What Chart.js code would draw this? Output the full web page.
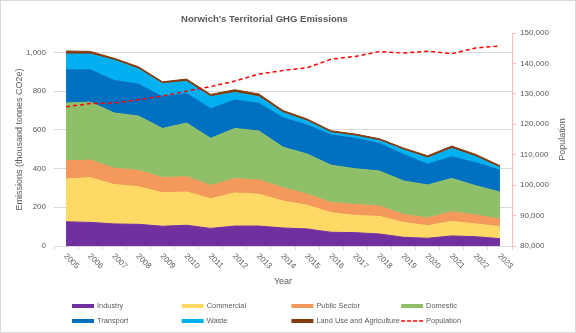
<!DOCTYPE html>
<html>
<head>
<meta charset="utf-8">
<script src="https://cdn.jsdelivr.net/npm/chart.js@4/dist/chart.umd.min.js"></script>
<style>
  html, body { margin: 0; padding: 0; background: #fff; }
  #chart { display: block; }
</style>
</head>
<body>
<canvas id="chart" width="576" height="333"></canvas>
<script>
var years = ['2005', '2006', '2007', '2008', '2009', '2010', '2011', '2012', '2013', '2014',
             '2015', '2016', '2017', '2018', '2019', '2020', '2021', '2022', '2023'];

// emissions, thousand tonnes CO2e
var industry   = [125, 122, 114, 112, 102, 107,  91, 103, 103,  93,  88,  71,  69,  62,  45,  40,  52,  48,  38];
var commercial = [221, 231, 203, 194, 173, 172, 153, 171, 164, 139, 122, 101,  88,  91,  77,  65,  75,  66,  62];
var publicSec  = [ 94,  91,  84,  85,  78,  79,  69,  74,  74,  69,  58,  52,  58,  53,  41,  40,  50,  46,  39];
var domestic   = [298, 299, 286, 280, 254, 277, 243, 259, 253, 209, 207, 193, 184, 181, 173, 170, 172, 151, 140];
var transport  = [172, 167, 168, 165, 164, 153, 153, 147, 143, 152, 150, 156, 157, 143, 137, 107, 112, 119, 113];
var waste      = [ 81,  81, 104,  78,  67,  62,  62,  39,  34,  26,  20,  12,  12,  14,  23,  32,  43,  31,  12];
var landUse    = [ 16,  14,  10,  12,  10,  12,  12,  14,  14,  12,  11,  10,  10,  10,  10,  12,  12,  12,  11];

var population = [125800, 126800, 127000, 128100, 129300, 130900, 132400, 134200, 136500, 137700,
                  138600, 141400, 142300, 143900, 143400, 144000, 143200, 145100, 145700];

var FONT = "'Liberation Sans', Arial, sans-serif";
var TEXT = '#595959';
var TITLE = "Norwich's Territorial GHG Emissions";

function area(label, data, color, first) {
  return {
    type: 'line',
    label: label,
    data: data,
    yAxisID: 'y',
    backgroundColor: color,
    borderColor: color,
    borderWidth: 1,
    pointRadius: 0,
    tension: 0,
    fill: first ? 'origin' : '-1'
  };
}

var datasets = [
  area('Industry', industry, '#7030A0', true),
  area('Commercial', commercial, '#FFD966'),
  area('Public Sector', publicSec, '#F4995C'),
  area('Domestic', domestic, '#8FC069'),
  area('Transport', transport, '#0070C0'),
  area('Waste', waste, '#00B0F0'),
  area('Land Use and Agriculture', landUse, '#843C0C'),
  {
    type: 'line',
    label: 'Population',
    data: population,
    yAxisID: 'y2',
    borderColor: '#FF0000',
    borderWidth: 1.5,
    borderDash: [4, 3],
    pointRadius: 0,
    tension: 0,
    fill: false,
    order: -1
  }
];

// frame, title, rotated year labels, right axis title and the legend grid
var extras = {
  id: 'extras',
  beforeDraw: function(chart) {
    var ctx = chart.ctx;
    ctx.save();
    ctx.strokeStyle = '#D9D9D9';
    ctx.lineWidth = 1;
    ctx.strokeRect(0.5, 0.5, chart.width - 1, chart.height - 1);
    ctx.restore();
  },
  afterDraw: function(chart) {
    var ctx = chart.ctx;
    var x = chart.scales.x;
    var area = chart.chartArea;
    ctx.save();

    // title, sized to the reference width
    ctx.font = 'bold 10px ' + FONT;
    var size = 10 * 167 / ctx.measureText(TITLE).width;
    ctx.font = 'bold ' + size.toFixed(2) + 'px ' + FONT;
    ctx.fillStyle = TEXT;
    ctx.textAlign = 'center';
    ctx.textBaseline = 'middle';
    ctx.fillText(TITLE, 264.5, 19);

    ctx.font = '8px ' + FONT;
    ctx.textAlign = 'left';
    years.forEach(function(y, i) {
      ctx.save();
      ctx.translate(x.getPixelForTick(i) - 1, area.bottom + 9);
      ctx.rotate(Math.PI / 4);
      ctx.fillText(y, 0, 0);
      ctx.restore();
    });

    ctx.save();
    ctx.font = '9px ' + FONT;
    ctx.textAlign = 'center';
    ctx.translate(563, (area.top + area.bottom) / 2);
    ctx.rotate(-Math.PI / 2);
    ctx.fillText('Population', 0, 0);
    ctx.restore();

    ctx.font = '7.4px ' + FONT;
    chart.data.datasets.forEach(function(ds, i) {
      var lx = 72 + (i % 4) * 109.7;
      var ly = 306 + Math.floor(i / 4) * 15;
      ctx.beginPath();
      ctx.strokeStyle = ds.borderColor;
      if (ds.borderDash) {
        ctx.lineWidth = 1.5;
        ctx.setLineDash([4, 2]);
      } else {
        ctx.lineWidth = 4;
        ctx.setLineDash([]);
      }
      ctx.moveTo(lx, ly);
      ctx.lineTo(lx + 22, ly);
      ctx.stroke();
      ctx.fillStyle = TEXT;
      ctx.fillText(ds.label, lx + 25, ly);
    });
    ctx.restore();
  }
};

new Chart(document.getElementById('chart'), {
  type: 'line',
  data: { labels: years, datasets: datasets },
  options: {
    responsive: false,
    animation: false,
    devicePixelRatio: 1,
    layout: { padding: { left: 0, right: 0, top: 33, bottom: 43 } },
    plugins: {
      legend: { display: false },
      tooltip: { enabled: false },
      title: { display: false }
    },
    scales: {
      x: {
        offset: true,
        grid: { offset: true, drawOnChartArea: false, drawTicks: true, tickLength: 4, color: '#D9D9D9' },
        border: { color: '#D9D9D9' },
        ticks: { display: false },
        title: {
          display: true, text: 'Year', color: TEXT,
          font: { family: FONT, size: 9 },
          padding: { top: 0, bottom: 3 }
        },
        afterFit: function(s) { s.height = 44; }
      },
      y: {
        position: 'left',
        stacked: true,
        min: 0,
        max: 1100,
        ticks: {
          stepSize: 200,
          includeBounds: false,
          padding: 8,
          color: TEXT,
          font: { family: FONT, size: 8 },
          callback: function(v) { return v.toLocaleString('en-US'); }
        },
        grid: { color: '#D9D9D9', drawTicks: false },
        border: { display: false },
        title: {
          display: true, text: 'Emissions (thousand tonnes CO2e)', color: TEXT,
          font: { family: FONT, size: 9 },
          padding: { top: 14 }
        },
        afterFit: function(s) { s.width = 54; }
      },
      y2: {
        position: 'right',
        min: 80000,
        max: 150000,
        ticks: {
          stepSize: 10000,
          padding: 4,
          color: TEXT,
          font: { family: FONT, size: 8 },
          callback: function(v) { return v.toLocaleString('en-US'); }
        },
        grid: { drawOnChartArea: false, color: '#FFB9B9', tickLength: 4 },
        border: { color: '#FFB9B9' },
        afterFit: function(s) { s.width = 64; }
      }
    }
  },
  plugins: [extras]
});
</script>
</body>
</html>
